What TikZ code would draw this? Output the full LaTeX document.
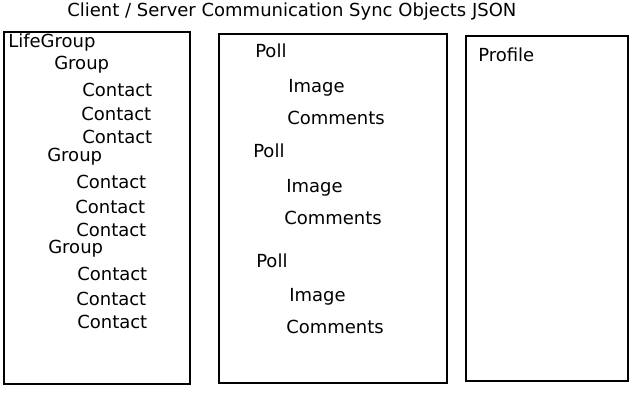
\documentclass[tikz,border=0pt]{standalone}
\usepackage{fontspec}
\setmainfont{DejaVu Sans}
\usepackage{tikz}
\usetikzlibrary{positioning}

\begin{document}
\begin{tikzpicture}[
  x=0.75pt, y=-0.75pt,
  panel/.style={draw=black, line width=1.6pt},
  lbl/.style={anchor=base west, inner sep=0pt, font=\fontsize{13.5}{16}\selectfont}
]
\useasboundingbox (0,0) rectangle (640,400);

\node[lbl] (title) at (67,16) {Client / Server Communication Sync Objects JSON};

% client side: life groups
\draw[panel] (4,32) rectangle (190,384);
\node[lbl] (lg) at (8,47) {LifeGroup};
\node[lbl] (g1) at (54,69) {Group};
\node[lbl] (c11) at (82,96) {Contact};
\node[lbl] (c12) at (81,120) {Contact};
\node[lbl] (c13) at (82,143) {Contact};
\node[lbl] (g2) at (47,161) {Group};
\node[lbl] (c21) at (76,188) {Contact};
\node[lbl] (c22) at (75,213) {Contact};
\node[lbl] (c23) at (76,236) {Contact};
\node[lbl] (g3) at (48,253) {Group};
\node[lbl] (c31) at (77,280) {Contact};
\node[lbl] (c32) at (76,305) {Contact};
\node[lbl] (c33) at (77,328) {Contact};

% polls
\draw[panel] (219,34) rectangle (447,383);
\node[lbl] (p1) at (255,57) {Poll};
\node[lbl] (i1) at (288,92) {Image};
\node[lbl] (m1) at (287,124) {Comments};
\node[lbl] (p2) at (253,157) {Poll};
\node[lbl] (i2) at (286,192) {Image};
\node[lbl] (m2) at (284,224) {Comments};
\node[lbl] (p3) at (256,267) {Poll};
\node[lbl] (i3) at (289,301) {Image};
\node[lbl] (m3) at (286,333) {Comments};

% profile
\draw[panel] (466,36) rectangle (628,381);
\node[lbl] (prof) at (478,61) {Profile};
\end{tikzpicture}
\end{document}
